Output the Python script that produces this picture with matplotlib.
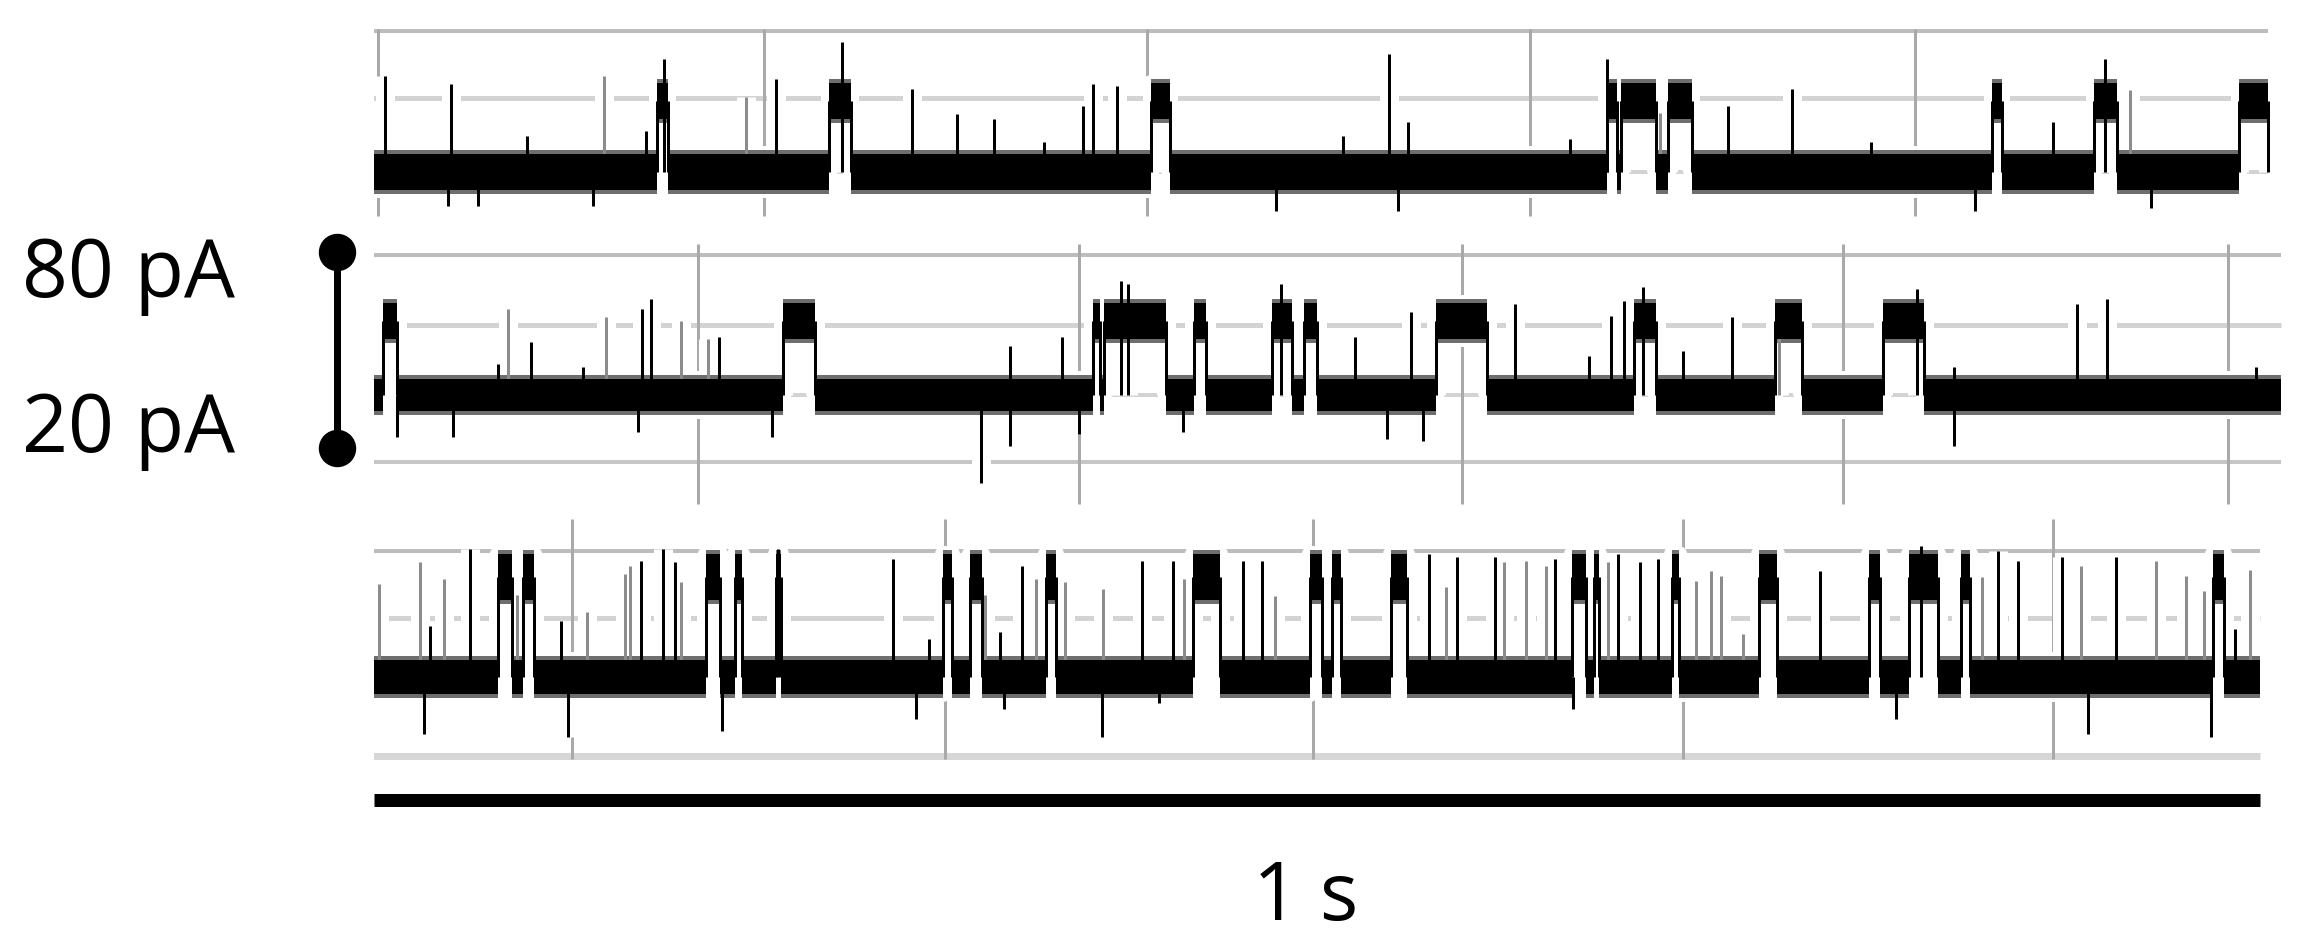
"""Three single-channel current traces with 1 s / pA scale bars."""

import matplotlib

matplotlib.use("Agg")
import matplotlib.pyplot as plt  # noqa: E402

W, H, DPI = 2300, 937, 100
X0, X1 = 374, 2292          # px span of the trace axes
PX_PER_MS = 1.886           # 1 s bar = 1886 px
PX_PER_PA = 3.267           # 60 pA bar = 196 px
PT = 72.0 / DPI             # px -> pt

# ---- trace 1 (top) -------------------------------------------------------
T1_END = 1004
T1_OPEN = 21.7
T1_BURSTS = [(150, 156), (241, 253), (412, 422), (654, 659), (661, 680),
             (686, 699), (858, 863), (912, 924), (989, 1004)]
T1_SPIKE_T = [6, 41, 81, 144, 154, 213, 248, 285, 309, 329, 355, 376, 381,
              394, 514, 538, 548, 634, 654, 718, 752, 794, 890, 918]
T1_SPIKE_PA = [29.4, 26.9, 11.0, 12.5, 34.6, 28.5, 39.8, 25.4, 17.8, 16.2,
               9.2, 20.2, 26.9, 26.3, 11.0, 36.1, 15.3, 10.1, 34.6, 20.2,
               25.4, 9.2, 15.3, 34.6]
T1_GRAY_T = [122, 197, 682, 931]
T1_GRAY_PA = [29.4, 23.0, 18.0, 25.0]
T1_DOWN_T = [39, 55, 116, 478, 543, 849, 942]
T1_DOWN_PA = [-10.4, -10.4, -10.4, -12.0, -12.0, -12.0, -11.0]
T1_VGRID = [2, 207, 410, 613, 817]
T1_HGRID = [43.2, 22.6, 0.0]

# ---- trace 2 (middle) ----------------------------------------------------
T2_END = 1011
T2_OPEN = 22.6
T2_BURSTS = [(5, 12), (217, 234), (381, 385), (387, 420), (435, 441),
             (476, 487), (493, 500), (563, 590), (668, 680), (743, 757),
             (800, 822)]
T2_SPIKE_T = [66, 83, 111, 142, 147, 183, 337, 365, 396, 400, 481, 520, 550,
              605, 644, 656, 663, 673, 694, 720, 818, 838, 903, 919, 998]
T2_SPIKE_PA = [9.5, 16.2, 8.5, 26.3, 29.4, 17.8, 15.0, 17.8, 35.0, 34.0,
               34.0, 17.8, 25.4, 27.9, 11.9, 24.2, 28.8, 33.1, 13.5, 23.9,
               32.4, 8.6, 27.9, 29.4, 8.6]
T2_GRAY_T = [71, 123, 163, 177, 745]
T2_GRAY_PA = [26.3, 23.9, 22.6, 17.1, 18.0]
T2_DOWN_T = [12, 42, 140, 211, 322, 337, 374, 429, 537, 556, 838]
T2_DOWN_PA = [-12.9, -12.9, -11.3, -12.9, -27.0, -15.5, -12.0, -11.3, -13.5,
              -14.0, -15.6]
T2_VGRID = [172, 374, 577, 779, 983]
T2_HGRID = [42.9, 21.4, 0.0, -20.5]

# ---- trace 3 (bottom) ----------------------------------------------------
T3_END = 1000
T3_OPEN = 30.6
T3_BURSTS = [(65.6, 73.2), (79.2, 84.6), (176.0, 183.3), (191.4, 194.9),
             (213.0, 216.0), (301.8, 306.4), (315.9, 322.6), (356.4, 361.8),
             (434.0, 448.4), (496.2, 502.8), (507.9, 512.6), (539.0, 547.6),
             (635.0, 642.8), (646.7, 649.4), (688.3, 692.2), (734.2, 744.0),
             (792.5, 798.4), (814.0, 829.5), (841.2, 846.2), (975.3, 981.1)]
T3_SPIKE_T = [29.6, 50.7, 99.4, 141.4, 153.0, 159.5, 214.4, 275.3, 294.2,
              332.1, 343.7, 407.3, 423.9, 460.8, 470.9, 559.2, 574.0, 594.2,
              626.1, 659.6, 671.2, 680.9, 766.5, 820.0, 861.3, 871.5, 894.8,
              923.6, 987.0]
T3_SPIKE_PA = [15.6, 39.2, 17.1, 35.5, 39.2, 35.2, 39.2, 36.1, 11.6, 13.8,
               34.0, 35.5, 35.5, 35.5, 35.5, 37.6, 36.7, 36.7, 36.1, 37.6,
               35.2, 36.1, 32.5, 40.2, 38.6, 35.5, 36.7, 36.7, 14.7]
T3_GRAY_T = [2.9, 24.2, 37.2, 76.0, 112.9, 133.2, 136.0, 163.0, 324.0, 351.0,
             366.4, 386.7, 429.7, 477.6, 568.2, 599.3, 610.6, 621.4, 654.5,
             701.2, 709.0, 714.0, 725.7, 852.8, 905.3, 945.0, 960.5, 970.3,
             994.7]
T3_GRAY_PA = [28.5, 35.2, 30.0, 25.0, 19.9, 31.5, 34.0, 29.1, 25.0, 30.0,
              29.1, 26.9, 30.0, 24.8, 27.5, 35.2, 35.5, 34.0, 35.2, 29.5,
              32.5, 31.0, 13.3, 30.5, 34.0, 35.5, 31.0, 26.3, 32.8]
T3_DOWN_T = [26.4, 103.0, 184.6, 287.4, 334.0, 386.2, 416.0, 636.0, 807.0,
             909.0, 974.0]
T3_DOWN_PA = [-17.4, -18.4, -16.5, -12.9, -9.8, -18.4, -8.0, -9.8, -12.9,
              -17.4, -18.4]
T3_VGRID = [105, 303, 498, 694, 890]
T3_HGRID = [38.6, 18.1, -24.2]

SCALE_MS = 1000
SCALE_PA = 60
SCALE_LABELS = ["80 pA", "20 pA"]
TIME_LABEL = "1 s"

GRAY = "#8c8c8c"
FRINGE = "#6e6e6e"
FRINGE_PA = 4 / PX_PER_PA  # soft noisy edge of the bands
HALO = 16 * PT             # white gap kept round the trace
SPIKE_LW = 3 * PT
HGRID_STYLE = [("#bdbdbd", 4), ("#d3d3d3", 5), ("#d3d3d3", 4), ("#c6c6c6", 4)]
FONT = ["Open Sans", "DejaVu Sans"]


def make_axes(fig, top, bottom, base):
    """Axes spanning pixel rows top..bottom, with 0 pA at pixel row base."""
    ax = fig.add_axes([X0 / W, 1 - bottom / H, (X1 - X0) / W, (bottom - top) / H])
    ax.set_xlim(0, (X1 - X0) / PX_PER_MS)
    ax.set_ylim((base - bottom) / PX_PER_PA, (base - top) / PX_PER_PA)
    ax.axis("off")
    return ax


def draw_grid(ax, t_end, hgrid, vgrid, vspan, last_style=None):
    for i, level in enumerate(hgrid):
        color, lw = HGRID_STYLE[i]
        if last_style and i == len(hgrid) - 1:
            color, lw = last_style
        ax.hlines(level, -0.5, t_end, colors=color, linewidth=lw * PT, zorder=1)
    ax.vlines(vgrid, vspan[1], vspan[0], colors="#a9a9a9",
              linewidth=3 * PT, zorder=1)


def draw_trace(ax, t_end, bursts, open_pa, closed_half, open_half,
               spike_t, spike_pa, gray_t, gray_pa, down_t, down_pa):
    closed, t = [], 0
    for s, e in bursts:
        if s > t:
            closed.append((t, s - t))
        t = e
    if t < t_end:
        closed.append((t, t_end - t))
    opened = [(s, e - s) for s, e in bursts]
    edges = [v for b in bursts for v in b]

    for halo in (True, False):
        c = "white" if halo else "black"
        z = 2 if halo else 3
        lw_band = HALO if halo else 0
        lw_line = SPIKE_LW + HALO if halo else SPIKE_LW
        ax.broken_barh(closed, (-closed_half, 2 * closed_half), facecolors=c,
                       edgecolors=c, linewidth=lw_band, zorder=z)
        ax.broken_barh(opened, (open_pa - open_half, 2 * open_half),
                       facecolors=c, edgecolors=c, linewidth=lw_band, zorder=z)
        ax.vlines(edges, 0, open_pa, colors=c, linewidth=lw_line, zorder=z)
        ax.vlines(gray_t, 0, gray_pa, colors="white" if halo else GRAY,
                  linewidth=lw_line, zorder=z - 0.1 if not halo else z)
        ax.vlines(spike_t, 0, spike_pa, colors=c, linewidth=lw_line, zorder=z)
        ax.vlines(down_t, down_pa, 0, colors=c, linewidth=lw_line, zorder=z)

    # grey fringe standing for the noise hairs on the band edges
    f = FRINGE_PA
    ax.broken_barh(closed, (-closed_half - f, 2 * (closed_half + f)),
                   facecolors=FRINGE, linewidth=0, zorder=2.5)
    ax.broken_barh(opened, (open_pa - open_half - f, 2 * (open_half + f)),
                   facecolors=FRINGE, linewidth=0, zorder=2.5)


fig = plt.figure(figsize=(W / DPI, H / DPI), dpi=DPI)

ax1 = make_axes(fig, 10, 236, 173)
draw_grid(ax1, T1_END, T1_HGRID, T1_VGRID, (43.8, -13.5))
draw_trace(ax1, T1_END, T1_BURSTS, T1_OPEN, 5.6, 5.6,
           T1_SPIKE_T, T1_SPIKE_PA, T1_GRAY_T, T1_GRAY_PA, T1_DOWN_T, T1_DOWN_PA)

ax2 = make_axes(fig, 236, 512, 396)
draw_grid(ax2, T2_END, T2_HGRID, T2_VGRID, (46.2, -33.4))
draw_trace(ax2, T2_END, T2_BURSTS, T2_OPEN, 5.0, 5.6,
           T2_SPIKE_T, T2_SPIKE_PA, T2_GRAY_T, T2_GRAY_PA, T2_DOWN_T, T2_DOWN_PA)

ax3 = make_axes(fig, 512, 780, 678)
draw_grid(ax3, T3_END, T3_HGRID, T3_VGRID, (48.4, -25.1),
          last_style=("#d6d6d6", 7))
draw_trace(ax3, T3_END, T3_BURSTS, T3_OPEN, 5.3, 7.0,
           T3_SPIKE_T, T3_SPIKE_PA, T3_GRAY_T, T3_GRAY_PA, T3_DOWN_T, T3_DOWN_PA)

# time scale bar under the bottom trace
bar_y = (678 - 801) / PX_PER_PA
ax3.plot([0, SCALE_MS], [bar_y, bar_y], color="black", linewidth=13 * PT,
         solid_capstyle="butt", clip_on=False)
fig.text(1306 / W, 1 - 920 / H, TIME_LABEL, ha="center", va="baseline",
         fontsize=58, family=FONT)

# current scale bar beside the middle trace
bar_x = (337 - X0) / PX_PER_MS
bar_top = (396 - 253) / PX_PER_PA
ax2.plot([bar_x, bar_x], [bar_top, bar_top - SCALE_PA], color="black",
         linewidth=7 * PT, marker="o", markersize=36 * PT, clip_on=False)
fig.text(22 / W, 1 - 297 / H, SCALE_LABELS[0], ha="left", va="baseline",
         fontsize=58, family=FONT)
fig.text(22 / W, 1 - 452 / H, SCALE_LABELS[1], ha="left", va="baseline",
         fontsize=58, family=FONT)

fig.savefig("out.png", dpi=DPI)
